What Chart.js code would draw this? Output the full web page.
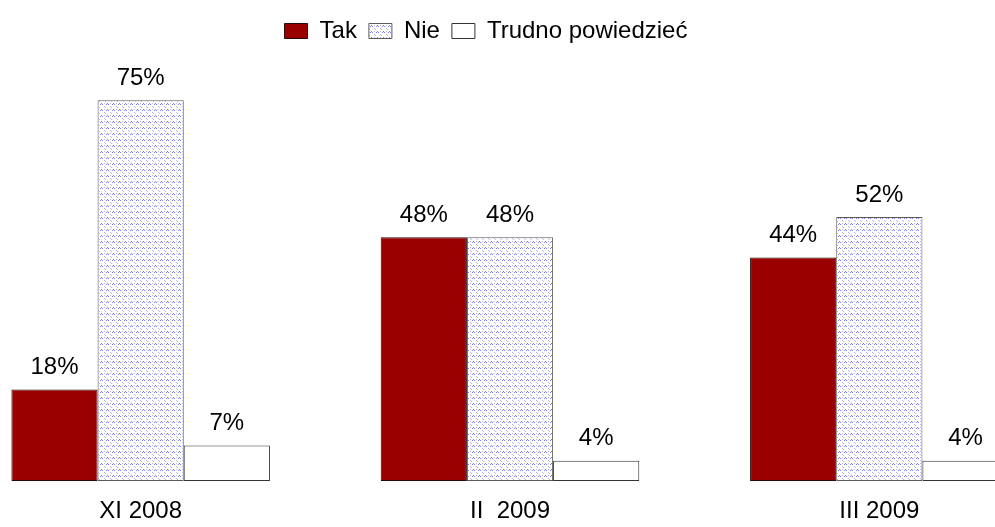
<!DOCTYPE html>
<html>
<head>
<meta charset="utf-8">
<script src="https://cdn.jsdelivr.net/npm/chart.js@4/dist/chart.umd.min.js"></script>
<style>
  html, body { margin: 0; padding: 0; background: #fff; overflow: hidden; }
  body { width: 995px; height: 527px; position: relative; }
  #wrap { position: absolute; left: -44px; top: 0; width: 1108px; height: 527px; }
</style>
</head>
<body>
<div id="wrap"><canvas id="chart-1"></canvas></div>
<script>
const periods = ["XI 2008", "II  2009", "III 2009"];
const tak = [18, 48, 44];
const nie = [75, 48, 52];
const trudno = [7, 4, 4];
const seriesNames = ["Tak", "Nie", "Trudno powiedzieć"];

const FONT = 'Arial, "Liberation Sans", sans-serif';

// dotted blue texture for "Nie"
function makePattern() {
  const c = document.createElement("canvas");
  c.width = 6;
  c.height = 6;
  const g = c.getContext("2d");
  g.fillStyle = "#ffffff";
  g.fillRect(0, 0, 6, 6);
  g.fillStyle = "#7f7ff2";
  g.fillRect(1, 1, 1, 1);
  g.fillRect(2, 2, 1, 1);
  g.fillRect(0, 2, 1, 1);
  g.fillStyle = "#b8b8f8";
  g.fillRect(4, 4, 1, 1);
  g.fillRect(5, 5, 1, 1);
  g.fillRect(4, 1, 1, 1);
  return document.createElement("canvas").getContext("2d").createPattern(c, "repeat");
}

const valueLabels = {
  id: "valueLabels",
  afterDatasetsDraw(chart) {
    const ctx = chart.ctx;
    ctx.save();
    ctx.font = "24px " + FONT;
    ctx.fillStyle = "#000";
    ctx.textAlign = "center";
    ctx.textBaseline = "middle";
    chart.data.datasets.forEach((ds, i) => {
      chart.getDatasetMeta(i).data.forEach((bar, j) => {
        ctx.fillText(ds.data[j] + "%", bar.x, bar.y - 22);
      });
    });
    ctx.restore();
  },
};

// canvas is wider than the page, move the legend back over the visible part
const legendShift = {
  id: "legendShift",
  afterLayout(chart) {
    chart.legend.left -= 24;
    chart.legend.right -= 24;
  },
};

const data = {
  labels: periods,
  datasets: [
    {
      label: seriesNames[0],
      data: tak,
      backgroundColor: "#9a0000",
      borderColor: "#2a0a0a",
      borderWidth: 1,
      borderSkipped: false,
    },
    {
      label: seriesNames[1],
      data: nie,
      backgroundColor: makePattern(),
      borderColor: "#5a5a5a",
      borderWidth: 1,
      borderSkipped: false,
    },
    {
      label: seriesNames[2],
      data: trudno,
      backgroundColor: "#ffffff",
      borderColor: "#333333",
      borderWidth: 1,
      borderSkipped: false,
    },
  ],
};

const config = {
  type: "bar",
  data: data,
  plugins: [valueLabels, legendShift],
  options: {
    responsive: true,
    maintainAspectRatio: false,
    animation: false,
    categoryPercentage: 0.7,
    barPercentage: 1.0,
    layout: {
      padding: { top: 7, bottom: 0, left: 0, right: 0 },
    },
    scales: {
      x: {
        grid: { display: false, drawTicks: false },
        border: { display: false },
        ticks: {
          padding: 16,
          color: "#000",
          font: { family: FONT, size: 24 },
        },
        afterFit(scale) {
          scale.height = 46;
        },
      },
      y: {
        display: false,
        min: 0,
        max: 84.3,
      },
    },
    plugins: {
      legend: {
        position: "top",
        labels: {
          boxWidth: 23,
          boxHeight: 15,
          padding: 12,
          color: "#000",
          font: { family: FONT, size: 24 },
        },
      },
      tooltip: { enabled: false },
    },
  },
};

const chart1 = new Chart(document.getElementById("chart-1"), config);
</script>
</body>
</html>
